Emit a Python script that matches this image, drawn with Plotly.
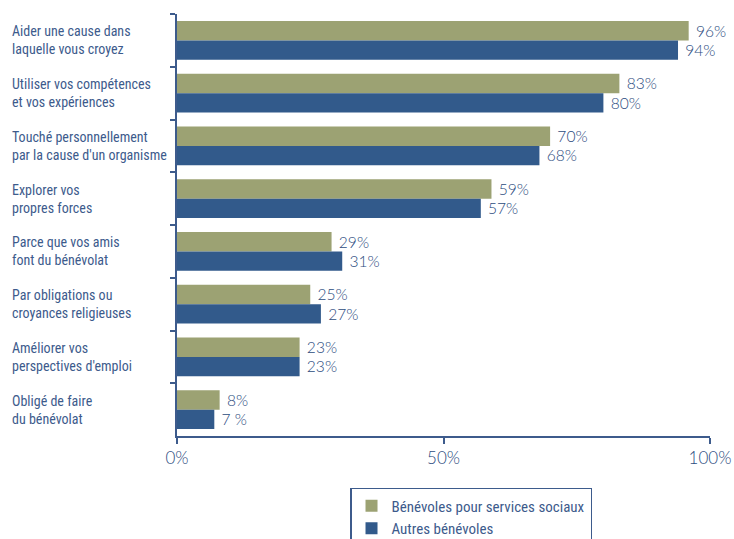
import plotly.graph_objects as go

categories = [
    "Aider une cause dans<br>laquelle vous croyez",
    "Utiliser vos compétences<br>et vos expériences",
    "Touché personnellement<br>par la cause d'un organisme",
    "Explorer vos<br>propres forces",
    "Parce que vos amis<br>font du bénévolat",
    "Par obligations ou<br>croyances religieuses",
    "Améliorer vos<br>perspectives d'emploi",
    "Obligé de faire<br>du bénévolat",
]
social_values = [96, 83, 70, 59, 29, 25, 23, 8]
other_values = [94, 80, 68, 57, 31, 27, 23, 7]
social_labels = [f"\u00a0{v}%" for v in social_values]
other_labels = [f"\u00a0{v}%" for v in other_values[:-1]] + [f"\u00a0{other_values[-1]} %"]
tick_vals = [0, 50, 100]
tick_text = ["0%", "50%", "100%"]

GREEN = "#9ca273"
BLUE = "#325a8b"
TEXT = "#3d5b8c"
NUM = "#2c4c80"
NARROW = "Roboto Condensed, DejaVu Sans Condensed, sans-serif"
ROUND = "Lato, Open Sans, sans-serif"

fig = go.Figure()
fig.add_trace(go.Bar(
    y=categories, x=social_values, orientation="h",
    name="Bénévoles pour services sociaux",
    marker=dict(color=GREEN, line=dict(width=0)),
    text=social_labels, textposition="outside",
    textfont=dict(family=ROUND, size=17, color=NUM, weight=300),
    cliponaxis=False,
))
fig.add_trace(go.Bar(
    y=categories, x=other_values, orientation="h",
    name="Autres bénévoles",
    marker=dict(color=BLUE, line=dict(width=0)),
    text=other_labels, textposition="outside",
    textfont=dict(family=ROUND, size=17, color=NUM, weight=300),
    cliponaxis=False,
))

# left-aligned category labels
for c in categories:
    fig.add_annotation(
        x=-0.314, xref="paper", y=c, yref="y",
        text=c, showarrow=False, xanchor="left", align="left",
        font=dict(family=NARROW, size=14, color=TEXT),
    )

fig.update_layout(
    width=734, height=539,
    margin=dict(l=177, r=24, t=14, b=103, autoexpand=False),
    paper_bgcolor="white", plot_bgcolor="white",
    barmode="group", bargap=0.27, bargroupgap=0,
    showlegend=True,
    legend=dict(
        x=0.3246, y=-0.123, xanchor="left", yanchor="top",
        bordercolor=TEXT, borderwidth=1.5,
        font=dict(family=NARROW, size=15, color=TEXT),
        itemsizing="constant",
    ),
    xaxis=dict(
        range=[0, 100], tickvals=tick_vals, ticktext=tick_text,
        showgrid=False, zeroline=False,
        showline=True, linecolor=TEXT, linewidth=1.5,
        ticks="outside", ticklen=6, tickcolor=TEXT, tickwidth=1.5,
        tickfont=dict(family=ROUND, size=17, color=NUM, weight=300),
    ),
    yaxis=dict(
        autorange="reversed", showticklabels=False,
        showgrid=False, zeroline=False,
        showline=True, linecolor=TEXT, linewidth=1.5,
        ticks="outside", ticklen=5, tickcolor=TEXT, tickwidth=1.5,
        tickson="boundaries",
    ),
)

fig.write_html("out.html")
